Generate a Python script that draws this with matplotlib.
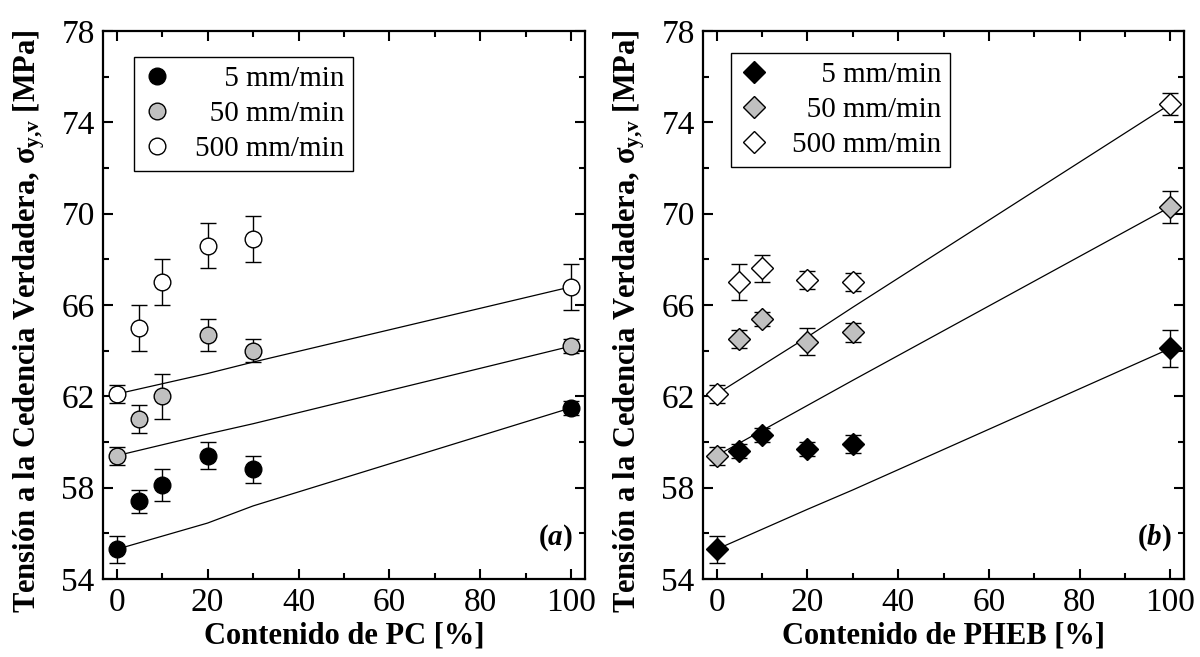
import matplotlib
matplotlib.use("Agg")
import matplotlib.pyplot as plt
import numpy as np

plt.rcParams['font.family'] = ['Liberation Serif', 'DejaVu Serif']
plt.rcParams['mathtext.fontset'] = 'custom'
plt.rcParams['mathtext.rm'] = 'Liberation Serif'
plt.rcParams['mathtext.bf'] = 'Liberation Serif:bold'
plt.rcParams['mathtext.it'] = 'Liberation Serif:italic:bold'

# ---------------- data ----------------
content = [0, 5, 10, 20, 30, 100]
rates = ['\u2007\u20075 mm/min', '\u200750 mm/min', '500 mm/min']
face_colors = ['black', '#c0c0c0', 'white']

# panel (a): PC
pc_5 = [55.3, 57.4, 58.1, 59.4, 58.8, 61.5]
pc_5_err = [0.6, 0.5, 0.7, 0.6, 0.6, 0.3]
pc_50 = [59.4, 61.0, 62.0, 64.7, 64.0, 64.2]
pc_50_err = [0.4, 0.6, 1.0, 0.7, 0.5, 0.3]
pc_500 = [62.1, 65.0, 67.0, 68.6, 68.9, 66.8]
pc_500_err = [0.4, 1.0, 1.0, 1.0, 1.0, 1.0]

# panel (b): PHEB
pheb_5 = [55.3, 59.6, 60.3, 59.7, 59.9, 64.1]
pheb_5_err = [0.6, 0.3, 0.3, 0.3, 0.4, 0.8]
pheb_50 = [59.4, 64.5, 65.4, 64.4, 64.8, 70.3]
pheb_50_err = [0.4, 0.4, 0.3, 0.6, 0.4, 0.7]
pheb_500 = [62.1, 67.0, 67.6, 67.1, 67.0, 74.8]
pheb_500_err = [0.4, 0.8, 0.6, 0.4, 0.4, 0.5]

# mixing-rule lines
line_x = [0, 20, 30, 100]
pc_line_5 = [55.3, 56.45, 57.2, 61.5]
pc_line_50 = [59.4, 60.35, 60.8, 64.2]
pc_line_500 = [62.1, 63.0, 63.5, 66.8]
pheb_line_5 = [55.3, 57.05, 57.9, 64.1]
pheb_line_50 = [59.4, 61.6, 62.7, 70.3]
pheb_line_500 = [62.1, 64.6, 65.9, 74.8]

x_ticks = [0, 20, 40, 60, 80, 100]
y_ticks = [54, 58, 62, 66, 70, 74, 78]

panels = [
    dict(vals=[pc_5, pc_50, pc_500], errs=[pc_5_err, pc_50_err, pc_500_err],
         lines=[pc_line_5, pc_line_50, pc_line_500], marker='o', ms=12,
         xlabel='Contenido de PC [%]', tag='a',
         rect=[103/1200, 1-579/657, 482/1200, 548/657], leg=(0.064, 0.953)),
    dict(vals=[pheb_5, pheb_50, pheb_500], errs=[pheb_5_err, pheb_50_err, pheb_500_err],
         lines=[pheb_line_5, pheb_line_50, pheb_line_500], marker='D', ms=11.5,
         xlabel='Contenido de PHEB [%]', tag='b',
         rect=[703/1200, 1-579/657, 481/1200, 548/657], leg=(0.058, 0.96)),
]

fig = plt.figure(figsize=(12, 6.57), dpi=100)
ylabel = 'Tensión a la Cedencia Verdadera, σ$_{\\mathbf{y{,}v}}$ [MPa]'

for p in panels:
    ax = fig.add_axes(p['rect'])
    for ly in p['lines']:
        ax.plot(line_x, ly, color='black', lw=0.9, zorder=2)
    handles = []
    for v, e, fc, lab in zip(p['vals'], p['errs'], face_colors, rates):
        ax.errorbar(content, v, yerr=e, fmt='none', ecolor='black', elinewidth=1.0,
                    capsize=5.5, capthick=1.0, zorder=3)
        h, = ax.plot(content, v, linestyle='none', marker=p['marker'], ms=p['ms'],
                     mfc=fc, mec='black', mew=1.0, zorder=4, label=lab)
        handles.append(h)
    ax.set_xlim(-3, 103)
    ax.set_ylim(54, 78)
    ax.set_xticks(x_ticks)
    ax.set_yticks(y_ticks)
    ax.set_xticks(np.arange(10, 100, 20), minor=True)
    ax.set_yticks(np.arange(56, 78, 4), minor=True)
    ax.tick_params(which='both', direction='in', top=True, right=True, width=1.5)
    ax.tick_params(which='major', length=7, labelsize=24, pad=6)
    ax.tick_params(which='minor', length=4)
    for s in ax.spines.values():
        s.set_linewidth(1.6)
    ax.set_xlabel(p['xlabel'], fontsize=22, fontweight='bold', labelpad=3)
    ax.set_ylabel(ylabel, fontsize=22, fontweight='bold')
    ax.yaxis.set_label_coords(-0.117, 0.47)
    ax.text(0.975, 0.062, '($\\mathit{%s}$)' % p['tag'], transform=ax.transAxes,
            fontsize=21, fontweight='bold', ha='right', va='baseline')
    leg = ax.legend(handles=handles, loc='upper left', bbox_to_anchor=p['leg'],
                    fontsize=21, frameon=True, fancybox=False, edgecolor='black',
                    framealpha=1, borderpad=0.3, labelspacing=0.3, handletextpad=0.8,
                    handlelength=1.0, borderaxespad=0)
    leg.get_frame().set_linewidth(1.0)

fig.savefig('out.png', dpi=100)
